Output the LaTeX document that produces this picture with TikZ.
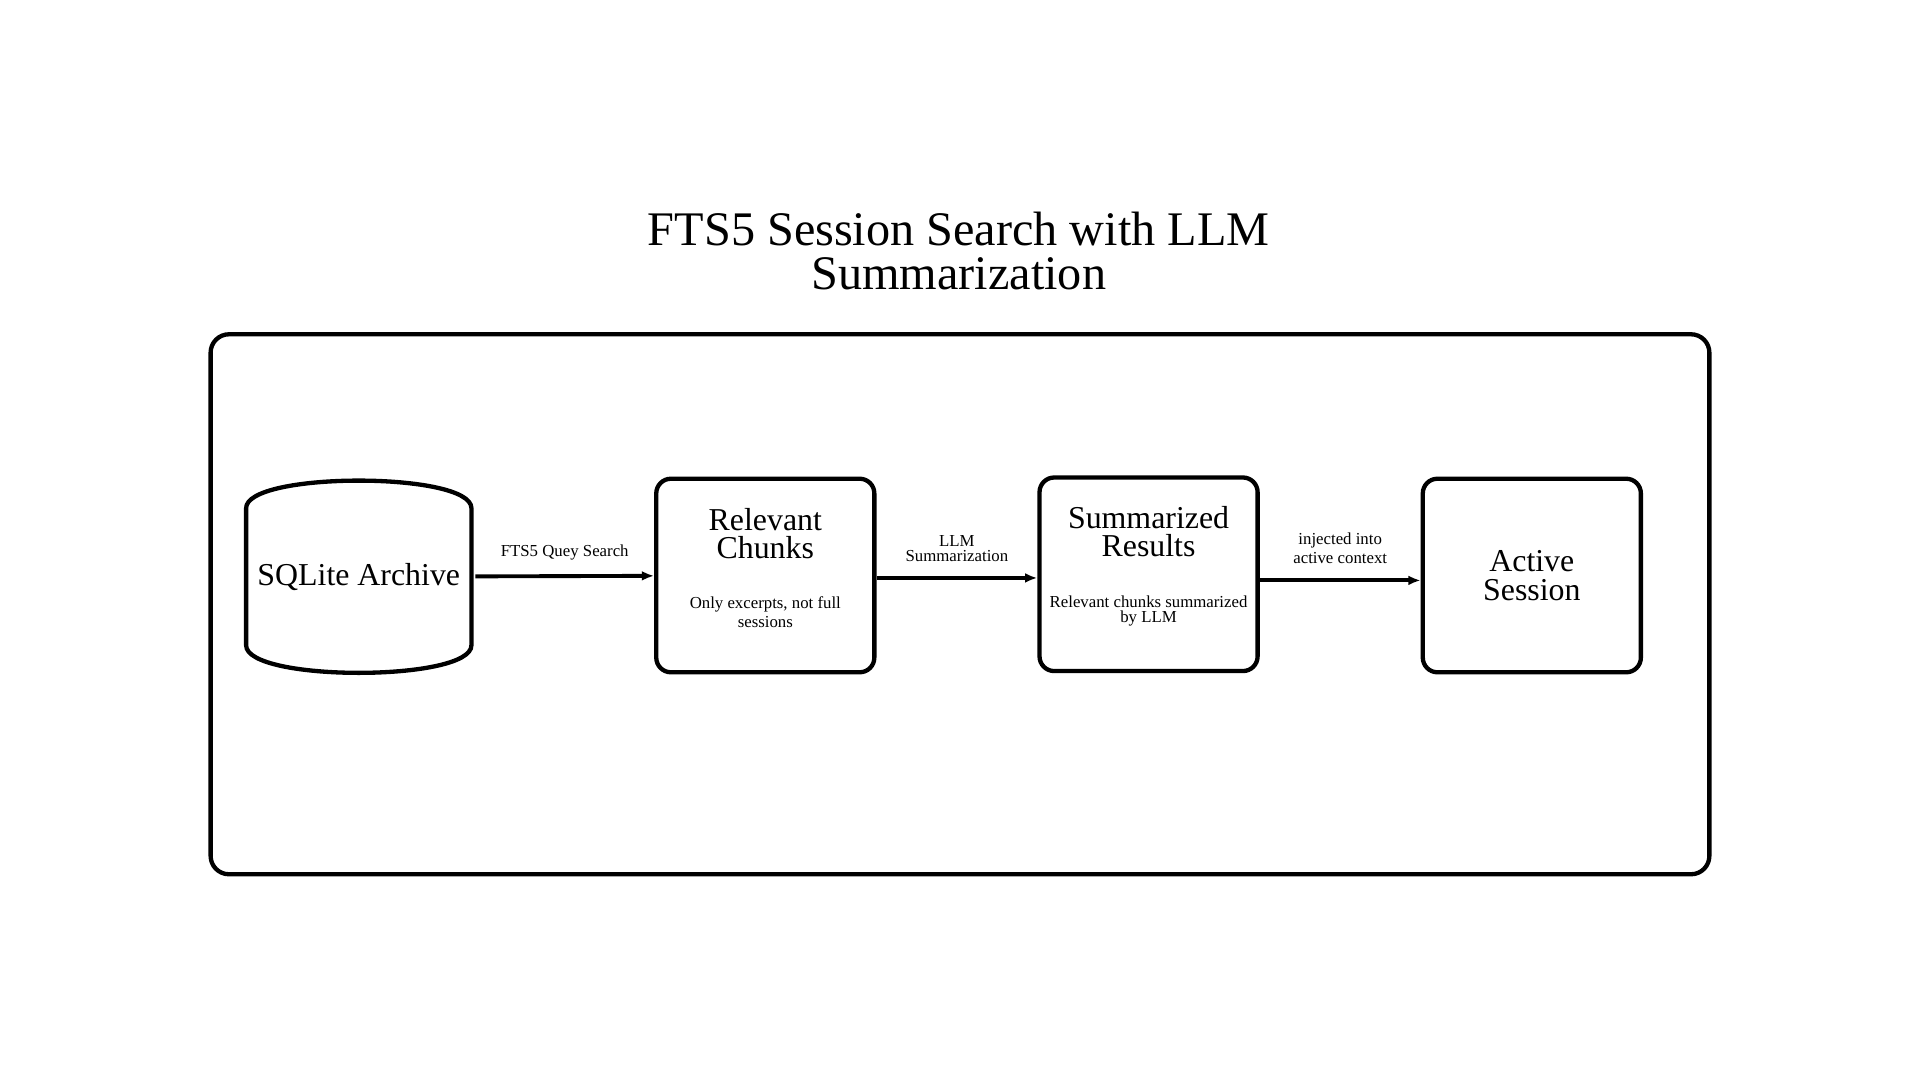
\documentclass[tikz,border=0pt]{standalone}
\usepackage{fontspec}
\setmainfont{Liberation Serif}
\usetikzlibrary{arrows.meta, positioning}
\begin{document}
\begin{tikzpicture}[x=0.01cm, y=-0.01cm,
box/.style={draw, line width=1pt, rectangle, rounded corners=0.12cm,
minimum width=1.78cm, minimum height=1.58cm, align=center},
head/.style={font=\fontsize{7.4}{6.6}\selectfont},
sub/.style={font=\fontsize{3.9}{3.4}\selectfont},
lbl/.style={font=\fontsize{3.9}{3.4}\selectfont, align=center, above},
arrow/.style={-{Latex[length=0.1cm, width=0.08cm]}, line width=0.9pt}
]
\useasboundingbox (0,0) rectangle (1568,882);

\node[font=\fontsize{11.2}{10.4}\selectfont, align=center] (title) at (783,205) {FTS5 Session Search with LLM\\Summarization};

\draw[line width=1pt, rounded corners=0.15cm] (172,273) rectangle (1396,714);

% archive drawn as a barrel
\node[minimum width=1.84cm, minimum height=1.62cm, head] (archive) at (293,471) {SQLite Archive};
\draw[line width=1pt] (201,415) .. controls (201,385) and (385,385) .. (385,415)
  -- (385,527) .. controls (385,557) and (201,557) .. (201,527) -- cycle;

\node[box] (chunks) at (625,470) {};
\node[head, align=center] at (625,436) {Relevant\\Chunks};
\node[sub, align=center] at (625,500) {Only excerpts, not full\\sessions};

\node[box] (results) at (938,469) {};
\node[head, align=center] at (938,434) {Summarized\\Results};
\node[sub, align=center] at (938,499) {Relevant chunks summarized\\by LLM};

\node[box, head] (active) at (1251,470) {Active\\Session};

\draw[arrow] (archive) -- node[lbl] {FTS5 Quey Search} (chunks);
\draw[arrow] (chunks.east |- 0,472) -- node[lbl] {LLM\\Summarization} (results.west |- 0,472);
\draw[arrow] (results.east |- 0,474) -- node[lbl] {injected into\\active context} (active.west |- 0,474);

\end{tikzpicture}
\end{document}
